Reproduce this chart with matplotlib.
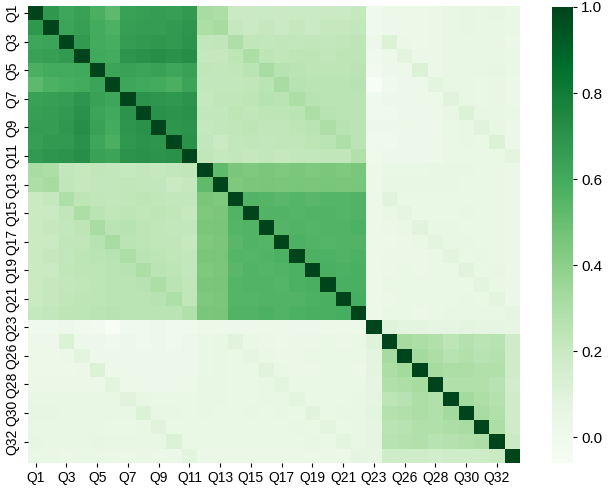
"""
Correlation heatmap of questionnaire items (Q1-Q33, Q24 not asked).
"""

import numpy as np
import pandas as pd
import matplotlib
matplotlib.use("Agg")
import matplotlib.pyplot as plt
import seaborn as sns

# ============================================================
# DATA (lower triangle; diagonal = 1)
# ============================================================
ITEMS = [f"Q{i}" for i in range(1, 24)] + [f"Q{i}" for i in range(25, 34)]

# rows Q1..Q11
ROWS_Q1_Q11 = [
    [],
    [0.68],
    [0.62, 0.63],
    [0.64, 0.65, 0.67],
    [0.58, 0.60, 0.60, 0.61],
    [0.53, 0.57, 0.59, 0.60, 0.63],
    [0.64, 0.65, 0.66, 0.69, 0.64, 0.62],
    [0.65, 0.66, 0.67, 0.71, 0.63, 0.61, 0.70],
    [0.66, 0.66, 0.68, 0.72, 0.64, 0.60, 0.69, 0.71],
    [0.65, 0.67, 0.67, 0.71, 0.62, 0.58, 0.68, 0.70, 0.69],
    [0.67, 0.69, 0.70, 0.72, 0.64, 0.63, 0.70, 0.71, 0.70, 0.71],
]

# rows Q12..Q22
ROWS_Q12_Q22 = [
    [0.31, 0.30, 0.22, 0.21, 0.23, 0.22, 0.21, 0.22, 0.21, 0.22, 0.23],
    [0.30, 0.32, 0.23, 0.21, 0.22, 0.22, 0.23, 0.22, 0.22, 0.20, 0.21, 0.52],
    [0.20, 0.21, 0.29, 0.24, 0.23, 0.22, 0.23, 0.24, 0.23, 0.22, 0.22, 0.45, 0.44],
    [0.19, 0.20, 0.23, 0.30, 0.25, 0.23, 0.24, 0.23, 0.24, 0.23, 0.21, 0.44, 0.45, 0.56],
    [0.20, 0.21, 0.22, 0.24, 0.31, 0.25, 0.26, 0.24, 0.23, 0.22, 0.22, 0.45, 0.46, 0.55, 0.56],
    [0.19, 0.20, 0.23, 0.23, 0.26, 0.31, 0.25, 0.24, 0.23, 0.23, 0.21, 0.44, 0.45, 0.54, 0.56, 0.55],
    [0.20, 0.21, 0.22, 0.24, 0.25, 0.26, 0.30, 0.25, 0.24, 0.23, 0.22, 0.45, 0.46, 0.55, 0.55, 0.56,
     0.57],
    [0.20, 0.20, 0.23, 0.24, 0.24, 0.25, 0.26, 0.30, 0.25, 0.24, 0.22, 0.44, 0.45, 0.54, 0.56, 0.55,
     0.56, 0.57],
    [0.19, 0.21, 0.22, 0.23, 0.24, 0.25, 0.25, 0.26, 0.30, 0.25, 0.23, 0.45, 0.46, 0.55, 0.56, 0.56,
     0.55, 0.57, 0.58],
    [0.20, 0.21, 0.23, 0.24, 0.24, 0.25, 0.25, 0.25, 0.26, 0.29, 0.23, 0.44, 0.45, 0.55, 0.55, 0.56,
     0.56, 0.56, 0.57, 0.58],
    [0.21, 0.22, 0.24, 0.24, 0.25, 0.26, 0.25, 0.25, 0.25, 0.25, 0.28, 0.45, 0.46, 0.56, 0.56, 0.57,
     0.56, 0.57, 0.58, 0.58, 0.59],
]

# row Q23
ROW_Q23 = [0.00, -0.01, 0.01, 0.00, -0.02, -0.06, -0.01, 0.00, 0.01, -0.01, 0.00,
           0.02, 0.02, 0.01, 0.01, 0.02, 0.02, 0.01, 0.01, 0.02, 0.02, 0.02]

# rows Q25..Q33: vs Q1-Q11, vs Q12-Q22, vs Q23, vs Q25..
ROWS_Q25_Q33_A = [
    [0.02, 0.01, 0.11, 0.02, 0.01, 0.00, 0.01, 0.00, 0.01, 0.00, 0.01],
    [0.02, 0.02, 0.03, 0.08, 0.02, 0.01, 0.01, 0.01, 0.02, 0.01, 0.01],
    [0.02, 0.02, 0.02, 0.03, 0.11, 0.02, 0.02, 0.01, 0.01, 0.01, 0.01],
    [0.03, 0.03, 0.03, 0.03, 0.03, 0.08, 0.02, 0.02, 0.01, 0.02, 0.02],
    [0.05, 0.05, 0.05, 0.05, 0.05, 0.05, 0.09, 0.05, 0.04, 0.04, 0.04],
    [0.06, 0.06, 0.05, 0.05, 0.05, 0.05, 0.05, 0.11, 0.05, 0.05, 0.04],
    [0.05, 0.05, 0.05, 0.05, 0.05, 0.04, 0.04, 0.05, 0.09, 0.04, 0.04],
    [0.06, 0.05, 0.05, 0.05, 0.06, 0.05, 0.05, 0.05, 0.05, 0.11, 0.04],
    [0.04, 0.04, 0.03, 0.04, 0.04, 0.03, 0.03, 0.04, 0.03, 0.03, 0.08],
]
ROWS_Q25_Q33_B = [
    [0.04, 0.05, 0.09, 0.04, 0.03, 0.02, 0.03, 0.03, 0.04, 0.03, 0.04],
    [0.04, 0.05, 0.04, 0.07, 0.04, 0.03, 0.03, 0.04, 0.04, 0.04, 0.04],
    [0.04, 0.05, 0.04, 0.04, 0.09, 0.04, 0.03, 0.03, 0.04, 0.04, 0.03],
    [0.05, 0.05, 0.04, 0.04, 0.05, 0.08, 0.04, 0.04, 0.04, 0.04, 0.04],
    [0.05, 0.05, 0.04, 0.04, 0.05, 0.05, 0.08, 0.04, 0.04, 0.04, 0.05],
    [0.05, 0.04, 0.04, 0.05, 0.04, 0.05, 0.04, 0.09, 0.04, 0.05, 0.05],
    [0.04, 0.04, 0.04, 0.04, 0.04, 0.04, 0.05, 0.04, 0.08, 0.04, 0.05],
    [0.04, 0.04, 0.04, 0.04, 0.04, 0.04, 0.04, 0.05, 0.04, 0.08, 0.05],
    [0.03, 0.03, 0.03, 0.03, 0.03, 0.03, 0.03, 0.03, 0.03, 0.03, 0.07],
]
COL_Q23_FOR_Q25_Q33 = [0.10, 0.08, 0.08, 0.07, 0.07, 0.08, 0.07, 0.07, 0.06]
ROWS_Q25_Q33_C = [
    [],
    [0.32],
    [0.30, 0.33],
    [0.28, 0.30, 0.32],
    [0.24, 0.26, 0.30, 0.28],
    [0.27, 0.28, 0.30, 0.28, 0.33],
    [0.25, 0.26, 0.28, 0.28, 0.30, 0.31],
    [0.26, 0.27, 0.28, 0.26, 0.27, 0.28, 0.30],
    [0.17, 0.17, 0.17, 0.16, 0.17, 0.17, 0.18, 0.20],
]


def build_matrix():
    rows = list(ROWS_Q1_Q11) + list(ROWS_Q12_Q22) + [ROW_Q23]
    for a, b, c, d in zip(ROWS_Q25_Q33_A, ROWS_Q25_Q33_B, COL_Q23_FOR_Q25_Q33, ROWS_Q25_Q33_C):
        rows.append(a + b + [c] + d)
    n = len(ITEMS)
    m = np.eye(n)
    for i, r in enumerate(rows):
        for j, v in enumerate(r):
            m[i, j] = v
            m[j, i] = v
    return pd.DataFrame(m, index=ITEMS, columns=ITEMS)


# ============================================================
# PLOT
# ============================================================
TICK_FONT = ["Liberation Sans", "DejaVu Sans"]

corr = build_matrix()

fig = plt.figure(figsize=(6.12, 4.91), dpi=100)
ax = fig.add_axes([28 / 612, 1 - 463 / 491, 492 / 612, 457 / 491])
cax = fig.add_axes([552 / 612, 1 - 463 / 491, 21 / 612, 456 / 491])

sns.heatmap(corr, cmap="Greens", ax=ax, cbar_ax=cax,
            xticklabels=2, yticklabels=2)

ax.tick_params(axis="both", length=3, width=0.8, pad=3)
for lab in ax.get_xticklabels():
    lab.set_rotation(0)
    lab.set_fontfamily(TICK_FONT)
    lab.set_fontsize(10)
for lab in ax.get_yticklabels():
    lab.set_rotation(90)
    lab.set_va("center")
    lab.set_fontfamily(TICK_FONT)
    lab.set_fontsize(10)

cax.tick_params(length=3, width=0.8, pad=3)
for lab in cax.get_yticklabels():
    lab.set_fontfamily(TICK_FONT)
    lab.set_fontsize(11)

fig.savefig("out.png", dpi=100)
plt.close(fig)
